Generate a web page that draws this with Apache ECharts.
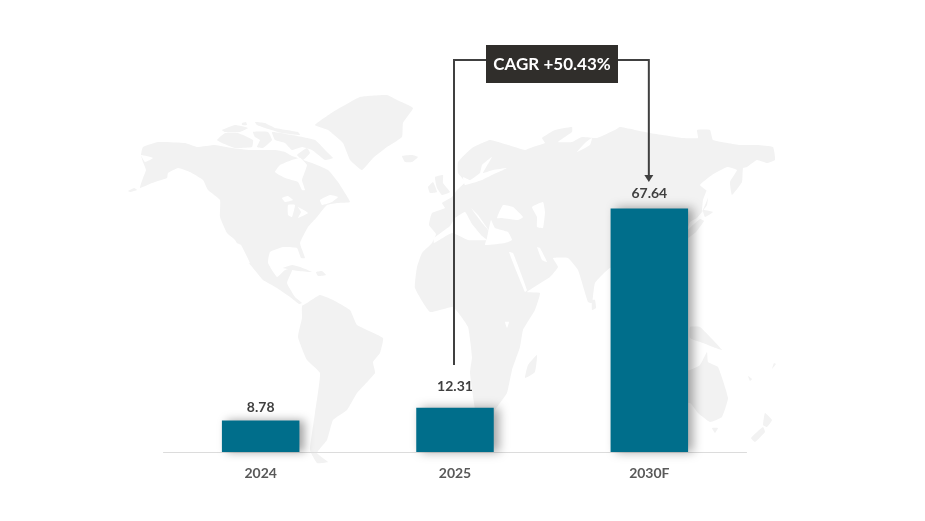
<!DOCTYPE html>
<html>
<head>
<meta charset="utf-8">
<script src="https://cdn.jsdelivr.net/npm/echarts@6/dist/echarts.min.js"></script>
<style>
  html, body { margin: 0; background: #fff; }
  #chart { width: 925px; height: 521px; }
</style>
</head>
<body>
<div id="chart"></div>
<script>
const categories = ['2024', '2025', '2030F']
const values = [8.78, 12.31, 67.64]
const cagrLabel = 'CAGR +50.43%'

// background map, rough outlines in page pixels
const mapLand = [
  // north america
  [[143,147],[158,142],[185,143],[197,147],[215,145],[232,148],[250,150],[275,150],[285,152],[292,156],[312,163],[328,170],[338,182],[345,193],[350,202],[338,203],[327,205],[317,217],[308,227],[300,243],[305,258],[301,258],[297,248],[283,247],[270,252],[268,263],[277,277],[285,270],[293,268],[287,283],[295,297],[302,303],[299,304],[290,297],[277,288],[263,280],[253,268],[245,258],[235,240],[227,233],[220,217],[220,200],[208,190],[203,180],[190,172],[178,168],[168,173],[167,178],[152,183],[140,188],[143,178],[146,170],[143,162],[141,155]],
  // arctic islands
  [[217,140],[225,133],[238,133],[253,140],[252,147],[235,148],[222,143]],
  [[222,130],[235,125],[248,128],[240,132],[225,132]],
  [[242,123],[246,122],[247,125],[242,125]],
  [[255,122],[265,123],[275,128],[298,132],[300,135],[282,133],[265,128],[257,125]],
  [[253,132],[268,132],[272,140],[263,148],[257,147],[260,140],[255,137]],
  [[272,132],[292,135],[315,140],[328,153],[333,158],[325,160],[312,150],[302,147],[292,150],[285,143],[275,140]],
  [[297,155],[307,148],[310,153],[303,160]],
  [[128,191],[134,188],[137,190],[130,192]],
  // caribbean
  [[283,268],[292,265],[300,267],[312,272],[298,271]],
  [[316,272],[322,271],[326,275],[318,276]],
  // south america
  [[302,306],[307,303],[320,295],[333,300],[350,310],[357,325],[383,338],[380,353],[373,362],[375,373],[357,393],[347,410],[333,420],[327,440],[317,453],[328,462],[317,463],[310,450],[315,413],[320,373],[307,360],[298,337],[302,318]],
  // greenland
  [[315,125],[333,112],[360,97],[387,95],[397,100],[413,108],[403,123],[402,137],[387,147],[373,158],[362,170],[350,160],[343,143],[328,130]],
  // iceland
  [[402,156],[412,155],[418,157],[412,162],[405,162]],
  // britain, ireland
  [[435,177],[443,175],[443,183],[450,192],[442,195],[437,188]],
  [[428,187],[433,182],[437,192],[430,193]],
  // eurasia and africa
  [[436,234],[429,225],[432,213],[445,208],[442,203],[452,197],[457,190],[465,182],[458,173],[458,162],[472,148],[490,140],[508,145],[525,150],[530,148],[545,143],[542,138],[555,130],[572,127],[572,132],[558,142],[572,142],[582,137],[597,138],[615,130],[620,127],[650,133],[683,138],[698,138],[697,130],[710,130],[713,140],[740,145],[757,145],[773,147],[775,160],[767,163],[757,160],[747,167],[743,168],[742,182],[732,195],[730,182],[737,170],[727,167],[712,175],[700,185],[708,192],[707,205],[697,218],[690,222],[684,240],[680,262],[672,300],[650,300],[630,270],[610,268],[595,283],[592,303],[588,302],[578,270],[568,258],[553,258],[558,267],[550,277],[527,292],[540,293],[535,310],[523,330],[520,347],[512,370],[507,393],[495,410],[490,430],[478,425],[470,373],[472,357],[468,327],[453,307],[430,312],[415,288],[417,267],[422,253],[432,243]],
  // sri lanka
  [[592,300],[595,300],[596,308],[592,310]],
  // madagascar
  [[537,355],[535,372],[525,378],[528,365]],
  // japan
  [[703,210],[713,212],[705,217]],
  [[700,219],[704,221],[696,232],[688,238],[688,230]],
  // new guinea
  [[690,327],[700,327],[713,340],[722,350],[713,347],[703,343],[690,338]],
  // australia
  [[690,370],[700,365],[707,352],[708,362],[718,367],[728,398],[722,417],[710,422],[698,413],[690,403],[660,403],[645,395],[645,375]],
  [[712,428],[718,428],[715,433]],
  // new zealand and small islands
  [[765,413],[772,420],[767,427],[763,425]],
  [[763,427],[765,432],[755,442],[751,438]],
  [[748,376],[752,379],[750,381]],
  [[774,363],[776,364],[772,369]]
]
const mapSeas = [
  // hudson bay, james bay
  [[292,160],[280,165],[275,172],[285,178],[298,182],[302,190],[305,190],[302,180],[307,165],[300,158]],
  // great lakes, st lawrence
  [[282,198],[288,196],[293,200],[285,202]],
  [[288,205],[295,205],[292,217],[288,215]],
  [[298,207],[308,213],[298,218],[301,212]],
  [[320,200],[330,195],[338,197],[332,202],[322,205]],
  // gulf of california, alaska inlet
  [[236,243],[241,245],[250,263],[247,263]],
  [[141,155],[153,158],[145,162]],
  // mediterranean, adriatic
  [[434,238],[450,226],[455,218],[465,212],[472,224],[482,236],[487,240],[468,240],[452,233],[434,243]],
  [[487,238],[491,220],[495,228],[508,232],[512,240],[505,243],[485,245]],
  [[471,208],[478,215],[490,232],[483,224]],
  // black sea, caspian, red sea, gulf
  [[497,218],[503,205],[513,207],[523,217],[518,220],[502,218]],
  [[532,207],[543,202],[545,212],[543,228],[537,227],[537,217]],
  [[509,252],[513,253],[527,290],[525,292]],
  [[537,247],[540,248],[547,262],[542,260]],
  // baltic
  [[482,165],[492,157],[483,173],[493,170],[507,168],[492,175],[482,180],[465,185],[463,177],[470,180],[480,173]],
  // ob inlet, sakhalin strait, lake victoria
  [[577,152],[590,145],[592,138],[586,142]],
  [[707,190],[709,195],[702,212],[703,200]],
  [[505,322],[509,322],[507,328]]
]

const mapColor = '#f2f2f2'
const inkColor = '#404040'
// gap between bar top and its value label
const labelGaps = [6, 14, 8]

const chart = echarts.init(document.getElementById('chart'), null, { renderer: 'canvas' })

chart.setOption({
  animation: false,
  backgroundColor: '#fff',
  grid: { left: 163.5, right: 178.5, top: 164, bottom: 69 },
  xAxis: {
    type: 'category',
    data: categories,
    axisTick: { show: false },
    axisLine: { lineStyle: { color: '#dcdcdc', width: 1 } },
    axisLabel: { color: '#595959', fontFamily: 'Lato', fontWeight: 'bold', fontSize: 14, margin: 14 }
  },
  yAxis: { type: 'value', min: 0, max: 80, show: false },
  series: [{
    type: 'bar',
    data: values.map((v, i) => ({ value: v, label: { distance: labelGaps[i] } })),
    barWidth: 77.5,
    itemStyle: {
      color: '#006e8b',
      shadowColor: 'rgba(0,0,0,0.36)',
      shadowBlur: 10,
      shadowOffsetX: 5,
      shadowOffsetY: 0
    },
    label: {
      show: true,
      position: 'top',
      color: inkColor,
      fontFamily: 'Lato',
      fontWeight: 'bold',
      fontSize: 14
    }
  }]
})

// annotation hangs off the bars through the chart scales
const x2025 = chart.convertToPixel({ xAxisIndex: 0 }, '2025')
const x2030 = chart.convertToPixel({ xAxisIndex: 0 }, '2030F')
const bracketY = 60
const boxLeft = 486
const boxRight = 618
const graphic = []

mapLand.forEach((points) => {
  graphic.push({ type: 'polygon', silent: true, z: 0, shape: { points: points, smooth: 0.12 }, style: { fill: mapColor } })
})
mapSeas.forEach((points) => {
  graphic.push({ type: 'polygon', silent: true, z: 1, shape: { points: points, smooth: 0.12 }, style: { fill: '#fff' } })
})

graphic.push({
  type: 'polyline', silent: true, z: 10,
  shape: { points: [[x2025 - 1, 365], [x2025 - 1, bracketY], [boxLeft, bracketY]] },
  style: { stroke: inkColor, lineWidth: 2, fill: null }
})
graphic.push({
  type: 'polyline', silent: true, z: 10,
  shape: { points: [[boxRight, bracketY], [x2030 - 0.5, bracketY], [x2030 - 0.5, 176]] },
  style: { stroke: inkColor, lineWidth: 2, fill: null }
})
graphic.push({
  type: 'polygon', silent: true, z: 10,
  shape: { points: [[x2030 - 5, 175], [x2030 + 4, 175], [x2030 - 0.5, 182]] },
  style: { fill: inkColor }
})
graphic.push({
  type: 'rect', silent: true, z: 11,
  shape: { x: boxLeft, y: 45, width: boxRight - boxLeft, height: 38 },
  style: { fill: '#302e2b' }
})
graphic.push({
  type: 'text', silent: true, z: 12,
  x: (boxLeft + boxRight) / 2, y: 64.5,
  style: {
    text: cagrLabel, fill: '#fff', align: 'center', verticalAlign: 'middle',
    font: 'bold 17px Lato'
  }
})

chart.setOption({ graphic: graphic })
</script>
</body>
</html>
